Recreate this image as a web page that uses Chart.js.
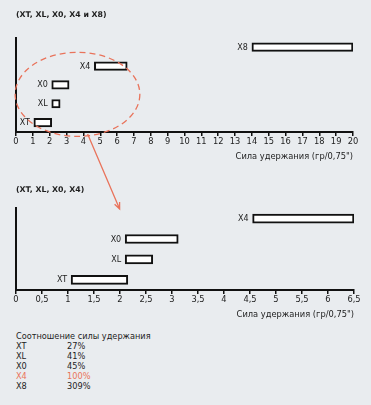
<!DOCTYPE html>
<html>
<head>
<meta charset="utf-8">
<script src="https://cdn.jsdelivr.net/npm/chart.js@4"></script>
<style>
  body { margin: 0; background: #e9ecef; font-family: "DejaVu Sans", sans-serif; }
  #page { position: relative; width: 371px; height: 405px; overflow: hidden; }
  #top { position: absolute; left: 0; top: 0; }
  #bottom { position: absolute; left: 0; top: 165px; }
  #ratio { position: absolute; left: 16px; top: 331px; font-size: 8.2px; line-height: 10px; color: #1d1d1d; }
  #ratio table { border-collapse: collapse; }
  #ratio td { padding: 0; }
  #ratio td.name { width: 51px; }
</style>
</head>
<body>
<div id="page">
  <canvas id="top" width="371" height="215"></canvas>
  <canvas id="bottom" width="371" height="160"></canvas>
  <div id="ratio"></div>
</div>
<script>
// ---- данные ----
var topLabels = ["X8", "X4", "X0", "XL", "XT"];
var topStart = [14, 4.65, 2.12, 2.12, 1.06];
var topEnd = [20, 6.6, 3.15, 2.62, 2.12];

var botLabels = ["X4", "X0", "XL", "XT"];
var botStart = [4.55, 2.1, 2.1, 1.06];
var botEnd = [6.5, 3.12, 2.63, 2.15];

var ratioNames = ["XT", "XL", "X0", "X4", "X8"];
var ratioValues = ["27%", "41%", "45%", "100%", "309%"];

var axisTitle = 'Сила удержания (гр/0,75")';
var coral = "#e9735b";
var ink = "#1d1d1d";

Chart.defaults.font.family = "'DejaVu Sans', sans-serif";
Chart.defaults.font.size = 8;
Chart.defaults.color = ink;

function ranges(a, b) {
    return a.map(function (v, i) { return [v, b[i]]; });
}

// подписи слева от каждой полосы
var barLabels = {
    id: "barLabels",
    afterDatasetsDraw: function (chart) {
        var ctx = chart.ctx;
        ctx.save();
        ctx.font = "8px 'DejaVu Sans'";
        ctx.fillStyle = ink;
        ctx.textAlign = "right";
        ctx.textBaseline = "middle";
        chart.getDatasetMeta(0).data.forEach(function (bar, i) {
            ctx.fillText(chart.data.labels[i], Math.min(bar.x, bar.base) - 4, bar.y + 0.5);
        });
        ctx.restore();
    }
};

// пунктирный овал и стрелка вниз
var zoomMark = {
    id: "zoomMark",
    afterDraw: function (chart) {
        var ctx = chart.ctx, xs = chart.scales.x, ys = chart.scales.y;
        var step = ys.getPixelForValue(1) - ys.getPixelForValue(0);
        var cx = xs.getPixelForValue(3.65);
        var rx = xs.getPixelForValue(7.35) - cx;
        var cy = (ys.getPixelForValue(2) + ys.getPixelForValue(3)) / 2;
        var ry = step * 2.23;
        ctx.save();
        ctx.strokeStyle = coral;
        ctx.lineWidth = 1.3;
        ctx.setLineDash([6, 4]);
        ctx.beginPath();
        ctx.ellipse(cx, cy, rx, ry, 0, 0, Math.PI * 2);
        ctx.stroke();

        ctx.setLineDash([]);
        var x1 = xs.getPixelForValue(4.25), y1 = chart.chartArea.bottom + 2;
        var x2 = xs.getPixelForValue(6.15), y2 = chart.chartArea.bottom + 77;
        var ang = Math.atan2(y2 - y1, x2 - x1);
        ctx.beginPath();
        ctx.moveTo(x1, y1);
        ctx.lineTo(x2, y2);
        ctx.moveTo(x2 - 7 * Math.cos(ang - 0.4), y2 - 7 * Math.sin(ang - 0.4));
        ctx.lineTo(x2, y2);
        ctx.lineTo(x2 - 7 * Math.cos(ang + 0.4), y2 - 7 * Math.sin(ang + 0.4));
        ctx.stroke();
        ctx.restore();
    }
};

function makeChart(id, labels, data, title, max, step, thick, pad, extra) {
    return new Chart(document.getElementById(id), {
        type: "bar",
        data: {
            labels: labels,
            datasets: [{
                data: data,
                backgroundColor: "#ffffff",
                borderColor: "#111111",
                borderWidth: 2,
                borderSkipped: false,
                barThickness: thick
            }]
        },
        options: {
            indexAxis: "y",
            responsive: false,
            animation: false,
            layout: { padding: pad },
            plugins: {
                legend: { display: false },
                tooltip: { enabled: false },
                title: {
                    display: true,
                    text: title,
                    align: "start",
                    color: ink,
                    font: { size: 7.8, weight: "bold" },
                    padding: pad.titlePad
                }
            },
            scales: {
                x: {
                    type: "linear",
                    min: 0,
                    max: max,
                    ticks: {
                        stepSize: step,
                        autoSkip: false,
                        maxRotation: 0,
                        padding: 1,
                        color: ink,
                        font: { size: 8.3 },
                        callback: function (v) { return String(v).replace(".", ","); }
                    },
                    grid: { drawOnChartArea: false, tickLength: 4, color: "#111111", lineWidth: 1.5 },
                    border: { color: "#111111", width: 2 },
                    title: {
                        display: true,
                        text: axisTitle,
                        align: "end",
                        color: ink,
                        font: { size: 8.3 },
                        padding: { top: 4, bottom: 0 }
                    }
                },
                y: {
                    grid: { display: false },
                    ticks: { display: false },
                    border: { color: "#111111", width: 2 },
                    afterFit: function (s) { s.width = 0; }
                }
            }
        },
        plugins: extra
    });
}

makeChart("top", topLabels, ranges(topStart, topEnd), "(XT, XL, X0, X4 и X8)", 20, 1, 8.5,
    { left: 16, right: 18, top: 0, bottom: 53, titlePad: { top: 10, bottom: 18.4 } },
    [barLabels, zoomMark]);

makeChart("bottom", botLabels, ranges(botStart, botEnd), "(XT, XL, X0, X4)", 6.5, 0.5, 9,
    { left: 16, right: 17, top: 0, bottom: 5, titlePad: { top: 20.5, bottom: 13.5 } },
    [barLabels]);

// таблица соотношения
var html = "<div>Соотношение силы удержания</div><table>";
ratioNames.forEach(function (n, i) {
    var style = n === "X4" ? ' style="color:' + coral + '"' : "";
    html += "<tr" + style + "><td class='name'>" + n + "</td><td>" + ratioValues[i] + "</td></tr>";
});
html += "</table>";
document.getElementById("ratio").innerHTML = html;
</script>
</body>
</html>
